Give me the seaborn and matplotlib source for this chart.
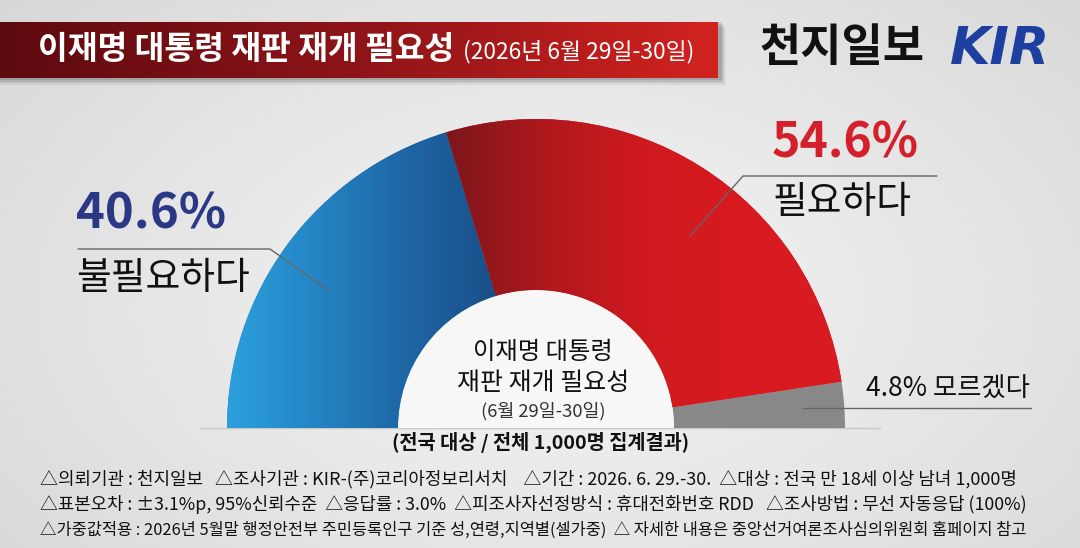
import numpy as np
import matplotlib
matplotlib.use("Agg")
import matplotlib.pyplot as plt
import seaborn as sns
from matplotlib.colors import LinearSegmentedColormap
from matplotlib.patches import Rectangle, Wedge

sns.set_theme(style="white")
plt.rcParams['font.family'] = ['Noto Sans CJK KR', 'DejaVu Sans']

# ---------------- data ----------------
categories = ["모르겠다", "필요하다", "불필요하다"]
values = [4.8, 54.6, 40.6]
title_main = "이재명 대통령 재판 재개 필요성"
title_date = "(2026년 6월 29일-30일)"
publisher = "천지일보"
logo = "KIR"
center_lines = ["이재명 대통령", "재판 재개 필요성", "(6월 29일-30일)"]
base_note = "(전국 대상 / 전체 1,000명 집계결과)"
footer_lines = [
    "△의뢰기관 : 천지일보   △조사기관 : KIR-(주)코리아정보리서치    △기간 : 2026. 6. 29.-30.  △대상 : 전국 만 18세 이상 남녀 1,000명",
    "△표본오차 : ±3.1%p, 95%신뢰수준  △응답률 : 3.0%  △피조사자선정방식 : 휴대전화번호 RDD   △조사방법 : 무선 자동응답 (100%)",
    "△가중값적용 : 2026년 5월말 행정안전부 주민등록인구 기준 성,연령,지역별(셀가중)  △ 자세한 내용은 중앙선거여론조사심의위원회 홈페이지 참고",
]

W, H = 1080, 548
fig = plt.figure(figsize=(W / 100, H / 100), dpi=100)
ax = fig.add_axes([0, 0, 1, 1])
ax.set_xlim(0, W)
ax.set_ylim(0, H)
ax.axis("off")


def Y(y):
    return H - y


renderer = fig.canvas.get_renderer()


def fit(t, width):
    bb = t.get_window_extent(renderer)
    t.set_fontsize(t.get_fontsize() * width / bb.width)
    return t


# ---------------- background ----------------
yy, xx = np.mgrid[0:H, 0:W]
d = np.sqrt(((xx - 560) / 700.0) ** 2 + ((yy - 300) / 420.0) ** 2)
bg = np.clip(0.965 - 0.11 * d, 0, 1)
ax.imshow(np.dstack([bg, bg, bg]), extent=[0, W, 0, H], aspect="auto", zorder=0)

# ---------------- title bar ----------------
for i, a in enumerate([0.10, 0.08, 0.06, 0.04, 0.02]):
    ax.add_patch(Rectangle((0, Y(80 + i * 1.5)), 722 + i, 58, color="black", alpha=a, lw=0, zorder=1))
bar_cmap = LinearSegmentedColormap.from_list("bar", ["#5c0a0f", "#8e1418", "#d2231f"])
bar = Rectangle((0, Y(78)), 718, 56, transform=ax.transData, fc="none", lw=0)
ax.add_patch(bar)
im = ax.imshow(np.linspace(0, 1, 256).reshape(1, -1), extent=[0, 718, Y(78), Y(22)],
               cmap=bar_cmap, aspect="auto", zorder=2)
im.set_clip_path(bar)
t = ax.text(38, Y(50), title_main, color="white", fontsize=22, fontweight="bold",
            va="center", ha="left", zorder=5)
fit(t, 417)
t = ax.text(463, Y(52), title_date, color="white", fontsize=14, fontweight="medium",
            va="center", ha="left", zorder=5)
fit(t, 232)

t = ax.text(760, Y(48), publisher, color="#111111", fontsize=27, fontweight="bold",
            va="center", ha="left", zorder=5)
fit(t, 165)
t = ax.text(950, Y(50), logo, color="#1d3fa0", fontsize=30, fontweight="heavy",
            fontstyle="italic", family=["DejaVu Sans"], va="center", ha="left", zorder=5)
fit(t, 100)

# ---------------- half donut ----------------
cx, cy, R, r = 536, Y(428), 309, 138
wedges, _ = ax.pie(values + [sum(values)], startangle=0, counterclock=True, radius=R,
                   center=(cx, cy), colors=["#888888", "#d41a1f", "#2278b8", "none"],
                   wedgeprops=dict(width=R - r, linewidth=0))
wedges[-1].set_visible(False)
for w in wedges[:3]:
    w.set_zorder(3)

ang_red = 180 * (values[0] + values[1]) / 100
x_split = cx + R * np.cos(np.radians(ang_red))
x_blue_max = cx + r * np.cos(np.radians(ang_red))

blue_cmap = LinearSegmentedColormap.from_list("blue", ["#2ba0dd", "#2484c4", "#1e66a4", "#1a4f88"])
red_cmap = LinearSegmentedColormap.from_list("red", ["#7c161b", "#b0181d", "#d01a1f", "#d81b20", "#d81b20"])
grad = np.linspace(0, 1, 256).reshape(1, -1)
im = ax.imshow(grad, extent=[cx - R, x_blue_max, cy, cy + R], cmap=blue_cmap, aspect="auto", zorder=4)
im.set_clip_path(wedges[2])
im = ax.imshow(grad, extent=[x_split, cx + R, cy, cy + R], cmap=red_cmap, aspect="auto", zorder=4)
im.set_clip_path(wedges[1])

# inner hole
ax.add_patch(Wedge((cx, cy), r, 0, 180, fc="#f7f7f7", ec="none", zorder=3))
ax.plot([200, 880], [cy, cy], color="#c8c8c8", lw=1, zorder=2)

ax.set_xlim(0, W)
ax.set_ylim(0, H)
ax.set_aspect("auto")

# ---------------- labels ----------------
# 불필요하다
t = ax.text(76, Y(214), f"{values[2]}%", color="#2b3886", fontsize=36, fontweight="bold",
            va="center", ha="left", zorder=6)
fit(t, 150)
ax.plot([78, 270, 328], [Y(249), Y(249), Y(290)], color="#666666", lw=1, zorder=6)
t = ax.text(76, Y(279), categories[2], color="#111111", fontsize=26, fontweight="medium",
            va="center", ha="left", zorder=6)
fit(t, 174)

# 필요하다
t = ax.text(772, Y(143), f"{values[1]}%", color="#d4202a", fontsize=36, fontweight="bold",
            va="center", ha="left", zorder=6)
fit(t, 147)
ax.plot([937, 743, 690], [Y(176), Y(176), Y(236)], color="#666666", lw=1, zorder=6)
t = ax.text(773, Y(203), categories[1], color="#111111", fontsize=26, fontweight="medium",
            va="center", ha="left", zorder=6)
fit(t, 139)

# 모르겠다
t = ax.text(866, Y(389), f"{values[0]}% {categories[0]}", color="#111111", fontsize=19,
            fontweight="medium", va="center", ha="left", zorder=6)
fit(t, 164)
ax.plot([803, 1031], [Y(408), Y(408)], color="#666666", lw=1, zorder=6)

# center text
t = ax.text(543, Y(352), center_lines[0], color="#111111", fontsize=17, fontweight="medium",
            va="center", ha="center", zorder=6)
fit(t, 140)
t = ax.text(543, Y(383), center_lines[1], color="#111111", fontsize=17, fontweight="medium",
            va="center", ha="center", zorder=6)
fit(t, 172)
t = ax.text(543, Y(411), center_lines[2], color="#333333", fontsize=13,
            va="center", ha="center", zorder=6)
fit(t, 125)

t = ax.text(541, Y(442), base_note, color="#111111", fontsize=14, fontweight="bold",
            va="center", ha="center", zorder=6)
fit(t, 298)

# ---------------- footer ----------------
for text, yv, wv in zip(footer_lines, [479, 505, 530], [982, 991, 991]):
    t = ax.text(40, Y(yv), text, color="#111111", fontsize=12, fontweight="medium",
                va="center", ha="left", zorder=6)
    fit(t, wv)

fig.savefig("out.png", dpi=100)
